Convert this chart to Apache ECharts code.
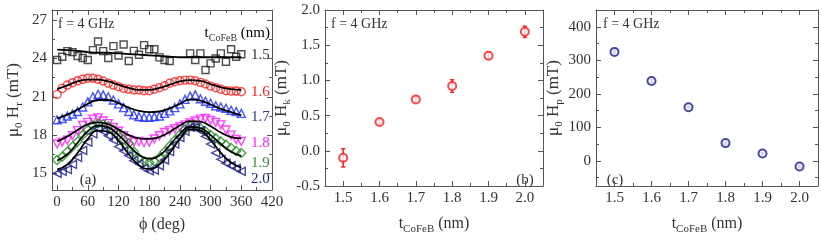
<!DOCTYPE html>
<html><head><meta charset="utf-8">
<script src="https://cdn.jsdelivr.net/npm/echarts@6/dist/echarts.min.js"></script>
<style>html,body{margin:0;padding:0;background:#fff}#c{width:822px;height:240px}</style>
</head><body><div id="c"></div>
<script>
// ---------- data ----------
const phiDeg = [0,10,20,30,40,50,60,70,80,90,100,110,120,130,140,150,160,170,180,190,200,210,220,230,240,250,260,270,280,290,300,310,320,330,340,350,360];
const hr15 = [23.88,24.14,24.58,24.5,24.2,24.04,23.88,24.66,25.33,24.58,24.04,24.97,24.23,25.1,23.8,24.6,24.3,25.05,24.72,24.72,24.09,23.88,23.8,null,null,null,24.4,23.88,24.4,23.1,23.62,24.0,24.4,23.75,24.72,24.14,24.33];
const hr16 = [21.19,21.66,21.92,22.1,22.26,22.37,22.45,22.45,22.37,22.24,22.06,21.92,21.79,21.66,21.59,21.53,21.53,21.48,21.48,21.59,21.71,21.87,22.06,22.18,22.26,22.31,22.31,22.26,22.13,22.0,21.84,21.71,21.59,21.48,21.45,21.45,21.4];
const hr17 = [19.2,19.3,19.5,19.65,19.85,20.2,20.6,21.0,21.2,21.15,21.0,20.75,20.45,20.15,19.85,19.6,19.45,19.4,19.4,19.45,19.5,19.7,19.9,20.15,20.45,20.8,21.05,21.15,20.85,20.65,20.5,20.3,20.2,20.1,19.95,19.85,19.7];
const hr18 = [17.3,17.45,17.6,17.95,18.35,18.75,19.0,19.25,19.35,19.1,18.9,18.6,18.3,17.95,17.65,17.45,17.5,17.4,17.45,17.7,17.95,18.2,18.35,18.5,18.65,18.8,18.95,19.1,19.25,19.3,19.15,19.0,18.8,18.4,18.0,17.65,17.5];
const hr19 = [16.05,16.3,16.7,17.1,17.5,18.0,18.4,18.75,18.9,18.85,18.7,18.4,18.0,17.65,17.35,16.7,16.2,15.95,15.85,15.95,16.25,16.7,17.15,17.6,18.05,18.45,18.7,18.75,18.55,18.3,18.0,17.75,17.5,17.25,17.0,16.75,16.6];
const hr20 = [15.0,15.15,15.3,15.7,16.25,16.8,17.45,18.1,18.5,18.3,17.95,17.6,17.1,16.75,16.4,16.0,15.75,15.4,15.2,15.25,15.6,16.05,16.7,17.3,17.8,18.3,18.6,18.6,18.35,17.9,17.3,16.6,16.1,15.8,15.6,15.4,15.15];

const fitPhi = [0,20,40,60,80,100,120,140,160,180,200,220,240,260,280,300,320,340,360];
const fit15 = [24.7,24.65,24.6,24.5,24.45,24.45,24.4,24.35,24.3,24.25,24.2,24.15,24.1,24.1,24.1,24.1,24.1,24.1,24.1];
const fit16 = [21.6,21.9,22.2,22.35,22.35,22.2,21.95,21.7,21.55,21.55,21.7,21.95,22.2,22.3,22.25,22.0,21.75,21.6,21.55];
const fit17 = [19.3,19.6,20.0,20.45,20.75,20.75,20.5,20.15,19.9,19.8,19.85,20.1,20.45,20.8,20.7,20.4,20.05,19.8,19.55];
const fit18 = [17.5,17.9,18.4,18.85,19.0,18.85,18.45,18.0,17.75,17.7,17.85,18.25,18.75,19.1,19.05,18.7,18.2,17.85,17.75];
const fit19 = [16.0,16.5,17.4,18.3,18.75,18.6,18.0,17.2,16.45,16.15,16.4,17.2,18.1,18.65,18.55,18.0,17.3,16.7,16.35];
const fit20 = [15.3,15.7,16.6,17.7,18.35,18.25,17.55,16.5,15.65,15.35,15.7,16.6,17.7,18.45,18.35,17.6,16.6,15.85,15.45];

const tNm = [1.5,1.6,1.7,1.8,1.9,2.0];
const hk = [-0.1,0.41,0.73,0.92,1.35,1.69];
const hkErr = [0.13,0.02,0.03,0.09,0.05,0.08];
const hp = [325,238,160,53,22,-17];
const hpErr = [4,4,3,3,3,3];

const phiTicks = [0,60,120,180,240,300,360,420];
const phiMinor = [30,90,150,210,270,330,390];
const hrTicks = [15,18,21,24,27];
const hrMinor = [16.5,19.5,22.5,25.5];
const tTicks = [1.5,1.6,1.7,1.8,1.9,2.0];
const tMinor = [1.55,1.65,1.75,1.85,1.95];
const hkTicks = [-0.5,0,0.5,1.0,1.5,2.0];
const hkMinor = [-0.25,0.25,0.75,1.25,1.75];
const hpTicks = [0,100,200,300,400];
const hpMinor = [-50,50,150,250,350];
const thickLabels = ['1.5','1.6','1.7','1.8','1.9','2.0'];

// ---------- style ----------
const SERIF = 'Liberation Serif';
const FRAME = '#555';
const TXT = '#333';
const colors = ['#222222','#ff1a1a','#1a2cff','#ff1aff','#1e8c1e','#1a1a8c'];
const labelColors = ['#333333','#ff1a1a','#2b3a80','#ff1aff','#3c8a3c','#1a2a80'];
const symbols = ['rect','circle','triangle','triangle','diamond','triangle'];
const rotations = [0,0,0,180,0,90];

const grids = [
  {left:52, top:10, width:220, height:180},
  {left:325, top:10, width:218, height:180},
  {left:596, top:10, width:222, height:180}
];

const nameRich = (fs)=>({m:{fontSize:fs, fontFamily:SERIF, color:TXT, lineHeight:22, verticalAlign:'middle'}, s:{fontSize:11, fontFamily:SERIF, color:TXT, lineHeight:12, verticalAlign:'bottom'}});
const xAxes = [], yAxes = [];
function addAxes(g, xr, xMaj, xMin, xFmt, yr, yMaj, yMin, yFmt, xName, yName, yGap) {
  const base = {gridIndex:g, type:'value', splitLine:{show:false}, scale:false};
  const mainX = xAxes.length;
  xAxes.push(Object.assign({}, base, {min:xr[0], max:xr[1], position:'bottom',
    axisLine:{show:true, onZero:false, lineStyle:{color:FRAME, width:1}},
    axisTick:{show:true, inside:true, length:5, customValues:xMaj, lineStyle:{color:FRAME}},
    axisLabel:{show:true, customValues:xMaj, formatter:xFmt, color:TXT, fontFamily:SERIF, fontSize:15, margin:5},
    name:xName, nameLocation:'middle', nameGap:27,
    nameTextStyle:{color:TXT, fontFamily:SERIF, fontSize:16, rich:nameRich(16)}
  }));
  xAxes.push(Object.assign({}, base, {min:xr[0], max:xr[1], position:'bottom',
    axisLine:{show:false, onZero:false}, axisLabel:{show:false},
    axisTick:{show:true, inside:true, length:3, customValues:xMin, lineStyle:{color:FRAME}}}));
  xAxes.push(Object.assign({}, base, {min:xr[0], max:xr[1], position:'top',
    axisLine:{show:true, onZero:false, lineStyle:{color:FRAME, width:1}}, axisLabel:{show:false},
    axisTick:{show:true, inside:true, length:5, customValues:xMaj, lineStyle:{color:FRAME}}}));
  xAxes.push(Object.assign({}, base, {min:xr[0], max:xr[1], position:'top',
    axisLine:{show:false, onZero:false}, axisLabel:{show:false},
    axisTick:{show:true, inside:true, length:3, customValues:xMin, lineStyle:{color:FRAME}}}));
  const mainY = yAxes.length;
  yAxes.push(Object.assign({}, base, {min:yr[0], max:yr[1], position:'left',
    axisLine:{show:true, onZero:false, lineStyle:{color:FRAME, width:1}},
    axisTick:{show:true, inside:true, length:5, customValues:yMaj, lineStyle:{color:FRAME}},
    axisLabel:{show:true, customValues:yMaj, formatter:yFmt, color:TXT, fontFamily:SERIF, fontSize:15, margin:5},
    name:yName, nameLocation:'middle', nameGap:yGap, nameRotate:90,
    nameTextStyle:{color:TXT, fontFamily:SERIF, fontSize:17, rich:nameRich(17)}
  }));
  yAxes.push(Object.assign({}, base, {min:yr[0], max:yr[1], position:'left',
    axisLine:{show:false, onZero:false}, axisLabel:{show:false},
    axisTick:{show:true, inside:true, length:3, customValues:yMin, lineStyle:{color:FRAME}}}));
  yAxes.push(Object.assign({}, base, {min:yr[0], max:yr[1], position:'right',
    axisLine:{show:true, onZero:false, lineStyle:{color:FRAME, width:1}}, axisLabel:{show:false},
    axisTick:{show:true, inside:true, length:5, customValues:yMaj, lineStyle:{color:FRAME}}}));
  yAxes.push(Object.assign({}, base, {min:yr[0], max:yr[1], position:'right',
    axisLine:{show:false, onZero:false}, axisLabel:{show:false},
    axisTick:{show:true, inside:true, length:3, customValues:yMin, lineStyle:{color:FRAME}}}));
  return {x:mainX, y:mainY};
}

const axA = addAxes(0, [-10,420], phiTicks, phiMinor, v=>String(v),
  [13.7,27.8], hrTicks, hrMinor, v=>String(v), 'ϕ (deg)', '{m|μ}{s|0}{m| H}{s|r}{m| (mT)}', 27);
const axB = addAxes(1, [1.45,2.05], tTicks, tMinor, v=>v.toFixed(1),
  [-0.5,2.0], hkTicks, hkMinor, v=>v.toFixed(1), '{m|t}{s|CoFeB}{m| (nm)}', '{m|μ}{s|0}{m| H}{s|k}{m| (mT)}', 28);
const axC = addAxes(2, [1.45,2.05], tTicks, tMinor, v=>v.toFixed(1),
  [-75,450], hpTicks, hpMinor, v=>String(v), '{m|t}{s|CoFeB}{m| (nm)}', '{m|μ}{s|0}{m| H}{s|p}{m| (mT)}', 29);

const hrSets = [hr15,hr16,hr17,hr18,hr19,hr20];
const fitSets = [fit15,fit16,fit17,fit18,fit19,fit20];
const series = [];
hrSets.forEach((arr,i)=>{
  series.push({type:'scatter', xAxisIndex:axA.x, yAxisIndex:axA.y,
    data: phiDeg.map((p,j)=>[p,arr[j]]).filter(d=>d[1]!==null),
    symbol:symbols[i], symbolRotate:rotations[i], symbolSize: i===4?9:(i===0?7:8),
    itemStyle:{color:'rgba(0,0,0,0)', borderColor:colors[i], borderWidth:1.4},
    silent:true, z:2});
});
fitSets.forEach((arr,i)=>{
  series.push({type:'line', xAxisIndex:axA.x, yAxisIndex:axA.y, smooth:0.5, showSymbol:false, symbol:'none',
    data: fitPhi.map((p,j)=>[p,arr[j]]), lineStyle:{color:'#000', width:1.8}, silent:true, z:3});
});

function errSeries(ax, vals, errs, color, capW) {
  return {type:'custom', xAxisIndex:ax.x, yAxisIndex:ax.y, silent:true, z:3,
    data: tNm.map((t,j)=>[t, vals[j], errs[j]]),
    renderItem:(params, api)=>{
      const t=api.value(0), v=api.value(1), e=api.value(2);
      const a=api.coord([t,v-e]), b=api.coord([t,v+e]);
      const st={stroke:color, lineWidth:1.5};
      return {type:'group', children:[
        {type:'line', shape:{x1:a[0],y1:a[1],x2:b[0],y2:b[1]}, style:st},
        {type:'line', shape:{x1:a[0]-capW,y1:a[1],x2:a[0]+capW,y2:a[1]}, style:st},
        {type:'line', shape:{x1:b[0]-capW,y1:b[1],x2:b[0]+capW,y2:b[1]}, style:st}
      ]};
    }};
}
series.push(errSeries(axB, hk, hkErr, '#ff1a1a', 2));
series.push({type:'scatter', xAxisIndex:axB.x, yAxisIndex:axB.y, data:tNm.map((t,j)=>[t,hk[j]]),
  symbol:'circle', symbolSize:8, itemStyle:{color:'#fff', borderColor:'#ff1a1a', borderWidth:2}, silent:true, z:4});
series.push({type:'scatter', xAxisIndex:axC.x, yAxisIndex:axC.y, data:tNm.map((t,j)=>[t,hp[j]]),
  symbol:'circle', symbolSize:8, itemStyle:{color:'#fff', borderColor:'#1a1a8c', borderWidth:2}, silent:true, z:3});
series.push(errSeries(axC, hp, hpErr, '#1a1a8c', 2));

const txtStyle = (extra)=>Object.assign({font:'14px "Liberation Serif"', fill:TXT}, extra);
const subRich = {s:{fontSize:10, fontFamily:SERIF, fill:TXT, color:TXT, lineHeight:12, verticalAlign:'bottom'}, m:{fontSize:15, fontFamily:SERIF, color:TXT, lineHeight:20, verticalAlign:'middle'}};
const graphics = [
  {type:'text', x:58, y:24, style:txtStyle({text:'f = 4 GHz', verticalAlign:'middle'})},
  {type:'text', x:331, y:24, style:txtStyle({text:'f = 4 GHz', verticalAlign:'middle'})},
  {type:'text', x:603, y:24, style:txtStyle({text:'f = 4 GHz', verticalAlign:'middle'})},
  {type:'text', x:270, y:33, style:{text:'{m|t}{s|CoFeB}{m| (nm)}', rich:subRich, align:'right', verticalAlign:'middle'}},
  {type:'text', x:88, y:180, style:txtStyle({text:'(a)', font:'15px "Liberation Serif"', align:'center', verticalAlign:'middle'})},
  {type:'text', x:525, y:180, style:txtStyle({text:'(b)', font:'15px "Liberation Serif"', align:'center', verticalAlign:'middle'})},
  {type:'text', x:615, y:180, style:txtStyle({text:'(c)', font:'15px "Liberation Serif"', align:'center', verticalAlign:'middle'})}
];
const labelY = [55,91.7,117.3,142.7,162.7,179.3];
thickLabels.forEach((s,i)=>{
  graphics.push({type:'text', x:251, y:labelY[i], style:{text:s, font:'15px "Liberation Serif"', fill:labelColors[i], verticalAlign:'middle'}});
});

const chart = echarts.init(document.getElementById('c'), null, {renderer:'canvas'});
chart.setOption({
  animation:false,
  backgroundColor:'#fff',
  grid:grids,
  xAxis:xAxes,
  yAxis:yAxes,
  series:series,
  graphic:graphics
});
</script>
</body></html>
